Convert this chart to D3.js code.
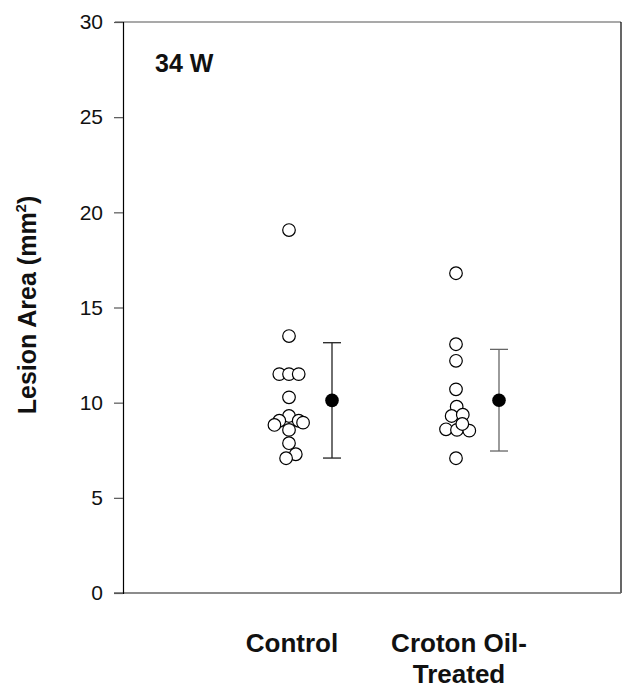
<!DOCTYPE html>
<html><head><meta charset="utf-8">
<script src="https://cdn.jsdelivr.net/npm/d3@7"></script>
<style>body{margin:0;background:#fff}svg{display:block}</style>
</head><body>
<script>
const categories = ["Control", "Croton Oil-Treated"];
const categoryLines = [["Control"], ["Croton Oil-", "Treated"]];
const controlValues = [19.07, 13.5, 11.5, 11.5, 11.5, 10.28, 9.3, 9.05, 9.05, 8.83, 8.95, 8.57, 7.87, 7.29, 7.08];
const controlJitter = [0, 0, -1, 0, 1, 0, 0, -1, 1, -1.5, 1.45, 0, 0, 0.7, -0.3];
const crotonValues = [16.8, 13.07, 12.2, 10.7, 9.79, 9.3, 9.37, 8.6, 8.57, 8.53, 8.88, 7.08];
const crotonJitter = [0, 0, 0, 0, 0.07, -0.45, 0.7, -1.03, 0.1, 1.37, 0.65, 0];
const means = [10.12, 10.13];
const sds = [3.03, 2.67];
const yTicks = [0, 5, 10, 15, 20, 25, 30];
const panelLabel = "34 W";

const W = 634, H = 694;
const m = {left: 123, right: 621, top: 22, bottom: 593};
const svg = d3.select("body").append("svg").attr("width", W).attr("height", H)
  .style("font-family", "'Liberation Sans', Arial, sans-serif");

const y = d3.scaleLinear().domain([0, 30]).range([m.bottom, m.top]);
const x = d3.scalePoint().domain(categories).range([289, 456]);
const jit = d3.scaleLinear().domain([-1, 1]).range([-9.7, 9.7]);
const meanOffset = 43;

// frame
svg.append("line").attr("x1", 115).attr("x2", m.right).attr("y1", y(30)).attr("y2", y(30)).attr("stroke", "#555").attr("stroke-width", 1.2);
svg.append("line").attr("x1", m.right).attr("x2", m.right).attr("y1", y(30)).attr("y2", y(0)).attr("stroke", "#000").attr("stroke-width", 1.2);
svg.append("line").attr("x1", 114).attr("x2", m.right).attr("y1", y(0)).attr("y2", y(0)).attr("stroke", "#666").attr("stroke-width", 1.6);

// y axis
const yAxis = d3.axisLeft(y).tickValues(yTicks).tickSize(9).tickPadding(11);
const ga = svg.append("g").attr("transform", `translate(${m.left},0)`).call(yAxis);
ga.select(".domain").attr("stroke", "#000").attr("stroke-width", 1.2);
ga.selectAll(".tick line").attr("stroke", "#555").attr("stroke-width", 1.2);
ga.selectAll(".tick text").attr("font-size", 21).attr("fill", "#111")
  .attr("font-family", "'Liberation Sans', Arial, sans-serif");

// y title
const yt = svg.append("text").attr("transform", `translate(36,305) rotate(-90)`)
  .attr("text-anchor", "middle").attr("font-size", 25).attr("font-weight", "bold").attr("fill", "#111");
yt.append("tspan").text("Lesion Area (mm");
yt.append("tspan").attr("font-size", 15).attr("dy", -10).text("2");
yt.append("tspan").attr("dy", 10).text(")");

// panel label
svg.append("text").attr("x", 155).attr("y", 72).attr("font-size", 25).attr("font-weight", "bold").attr("fill", "#111").text(panelLabel);

// category labels
categoryLines.forEach((lines, i) => {
  lines.forEach((t, j) => {
    svg.append("text").attr("x", x(categories[i]) + 3).attr("y", 652 + j * 31)
      .attr("text-anchor", "middle").attr("font-size", 26).attr("font-weight", "bold").attr("fill", "#111").text(t);
  });
});

// points
const groups = [
  {cat: categories[0], vals: controlValues, jit: controlJitter},
  {cat: categories[1], vals: crotonValues, jit: crotonJitter}
];
groups.forEach(g => {
  svg.append("g").selectAll("circle").data(g.vals).join("circle")
    .attr("cx", (d, i) => x(g.cat) + jit(g.jit[i]))
    .attr("cy", d => y(d))
    .attr("r", 6.3).attr("fill", "#fff").attr("stroke", "#000").attr("stroke-width", 1.2);
});

// means with error bars
const errColors = ["#222", "#666"];
categories.forEach((c, i) => {
  const cx = x(c) + meanOffset;
  const g = svg.append("g");
  g.append("line").attr("x1", cx).attr("x2", cx).attr("y1", y(means[i] + sds[i])).attr("y2", y(means[i] - sds[i])).attr("stroke", errColors[i]).attr("stroke-width", 1.3);
  [means[i] + sds[i], means[i] - sds[i]].forEach(v => {
    g.append("line").attr("x1", cx - 9).attr("x2", cx + 9).attr("y1", y(v)).attr("y2", y(v)).attr("stroke", errColors[i]).attr("stroke-width", 1.3);
  });
  g.append("circle").attr("cx", cx).attr("cy", y(means[i])).attr("r", 6.8).attr("fill", "#000");
});
</script>
</body></html>
